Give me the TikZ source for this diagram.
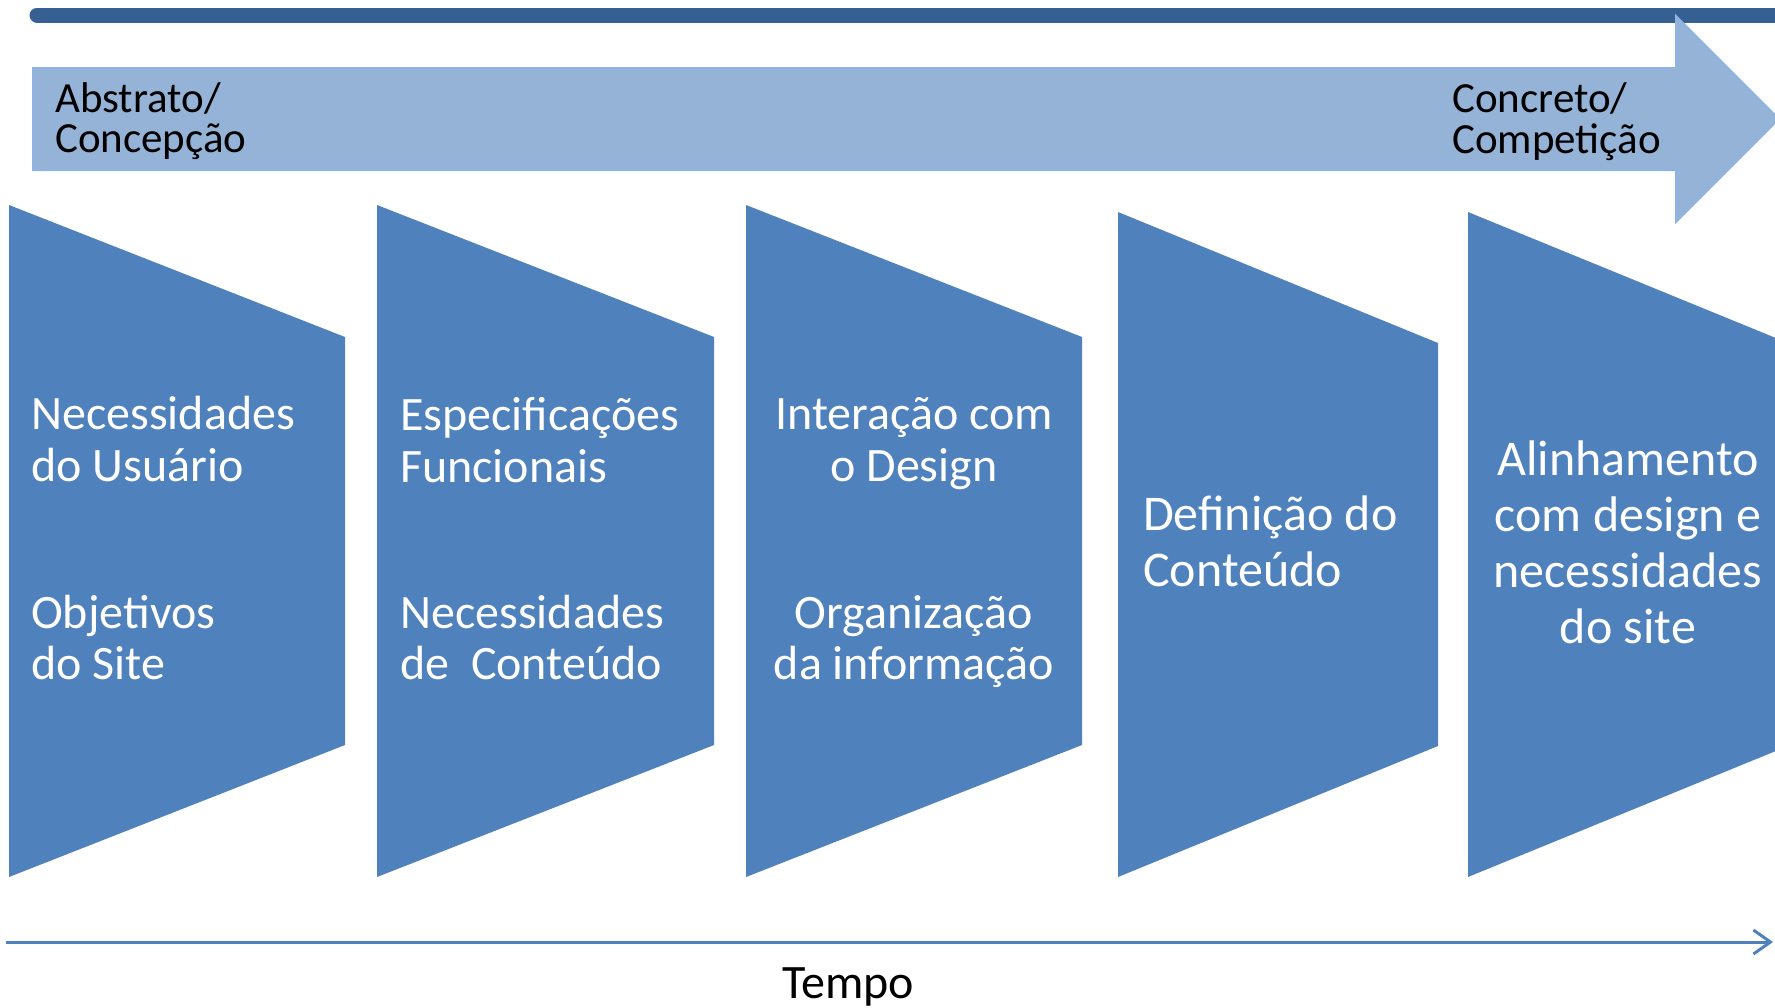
\documentclass[tikz,border=0pt]{standalone}
\usepackage{fontspec}
\setmainfont{Carlito}
\usetikzlibrary{arrows.meta}
\definecolor{barblue}{HTML}{366092}
\definecolor{arrowfill}{HTML}{95B3D7}
\definecolor{arrowline}{HTML}{8DB4E2}
\definecolor{chev}{HTML}{4F81BD}
\begin{document}
\begin{tikzpicture}[x=1pt,y=-1pt,
  chevron/.style={fill=chev, draw=none},
  lbl/.style={inner sep=0pt, text=white, font=\fontsize{48}{52}\selectfont},
  biglbl/.style={inner sep=0pt, text=white, font=\fontsize{50}{56}\selectfont},
  toplbl/.style={inner sep=0pt, text=black, font=\fontsize{43}{40}\selectfont},
  timeline/.style={draw=chev, line width=3pt, -{Straight Barb[length=17pt, width=24pt]}}]
\useasboundingbox (0,0) rectangle (1775,1007);
\clip (0,0) rectangle (1775,1007);

% top dark bar
\coordinate (barL) at (37,15);
\coordinate (barR) at (1800,15);
\draw[barblue, line width=15pt, line cap=round] (barL) -- (barR);

% big light arrow
\draw[fill=arrowfill, draw=arrowline, line width=2pt, line join=miter]
  (33,68) -- (1676,68) -- (1676,16) -- (1779,119) -- (1676,222) -- (1676,170) -- (33,170) -- cycle;
\node[toplbl, anchor=base west] (abs) at (55,112)
  {\begin{tabular}[t]{@{}l@{}}Abstrato/\\Concepção\end{tabular}};
\node[toplbl, anchor=base west] (con) at (1452,112)
  {\begin{tabular}[t]{@{}l@{}}Concreto/\\Competição\end{tabular}};

% chevrons
\fill[chevron] (9,205) -- (345,337) -- (345,745) -- (9,877) -- cycle;
\fill[chevron] (377,205) -- (714,337) -- (714,745) -- (377,877) -- cycle;
\fill[chevron] (746,205) -- (1082,337) -- (1082,745) -- (746,877) -- cycle;
\fill[chevron] (1118,212) -- (1438,343) -- (1438,746) -- (1118,877) -- cycle;
\fill[chevron] (1468,212) -- (1788,343) -- (1788,746) -- (1468,877) -- cycle;

% labels
\node[lbl, anchor=base west] (t1a) at (31,429)
  {\begin{tabular}[t]{@{}l@{}}Necessidades\\do Usuário\end{tabular}};
\node[lbl, anchor=base west] (t1b) at (31,628)
  {\begin{tabular}[t]{@{}l@{}}Objetivos\\[-1pt]do Site\end{tabular}};
\node[lbl, anchor=base west] (t2a) at (400,430)
  {\begin{tabular}[t]{@{}l@{}}Especificações\\Funcionais\end{tabular}};
\node[lbl, anchor=base west] (t2b) at (400,628)
  {\begin{tabular}[t]{@{}l@{}}Necessidades\\[-1pt]de\ \ Conteúdo\end{tabular}};
\node[lbl, anchor=base] (t3a) at (914,429)
  {\begin{tabular}[t]{@{}c@{}}Interação com\\o Design\end{tabular}};
\node[lbl, anchor=base] (t3b) at (914,628)
  {\begin{tabular}[t]{@{}c@{}}Organização\\[-1pt]da informação\end{tabular}};
\node[biglbl, anchor=base west] (t4) at (1143,530)
  {\begin{tabular}[t]{@{}l@{}}Definição do\\Conteúdo\end{tabular}};
\node[biglbl, anchor=base] (t5) at (1628,475)
  {\begin{tabular}[t]{@{}c@{}}Alinhamento\\com design e\\necessidades\\do site\end{tabular}};

% time axis
\coordinate (tl) at (6,942);
\coordinate (tr) at (1773,942);
\draw[timeline] (tl) -- (tr);
\node[inner sep=0pt, anchor=base, font=\fontsize{48}{52}\selectfont] (tempo) at (848,998) {Tempo};
\end{tikzpicture}
\end{document}
